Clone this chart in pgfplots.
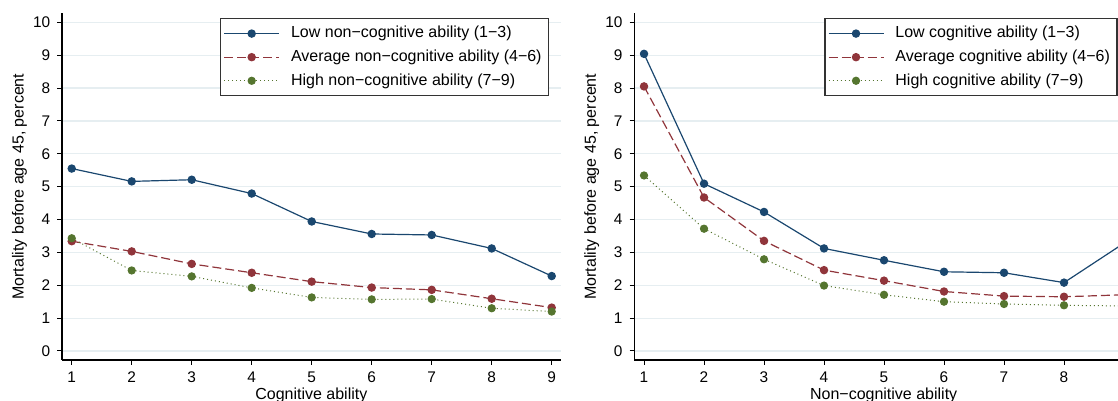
\documentclass[border=0pt]{standalone}
\usepackage{pgfplots}
\pgfplotsset{compat=1.18}
\usepackage{fontspec}
\setmainfont{Liberation Sans}
\definecolor{snavy}{RGB}{26,71,111}
\definecolor{smaroon}{RGB}{144,53,59}
\definecolor{sgreen}{RGB}{85,117,47}
\definecolor{sgrid}{RGB}{230,238,241}

\pgfplotsset{
  stata/.style={
    scale only axis, width=249.35pt, height=173.35pt,
    xmin=0.838, xmax=9.15, ymin=-0.274, ymax=10.274,
    axis lines*=left,
    axis line style={line width=0.6pt, black},
    xtick={1,...,9}, ytick={0,...,10},
    tick align=outside, major tick length=2.35pt,
    tick style={line width=0.5pt, black},
    ymajorgrids, major grid style={sgrid, line width=0.6pt},
    /pgf/number format/assume math mode=true,
    tick label style={font=\fontsize{7.7}{9}\selectfont},
    label style={font=\fontsize{8}{9.6}\selectfont},
    xlabel style={yshift=4.25pt},
    ylabel style={yshift=-3.75pt},
    ylabel={Mortality before age 45, percent},
    legend cell align=left,
    legend image code/.code={\draw[mark repeat=2, mark phase=2, #1] plot coordinates {(0pt,0pt) (13.75pt,0pt) (27.5pt,0pt)};},
    legend style={at={(0.3168,0.9856)}, anchor=north west, draw=black!80, line width=0.6pt,
      font=\fontsize{8}{9.6}\selectfont, inner xsep=1.5pt, inner ysep=1.7pt, row sep=0.5pt,
      /tikz/every odd column/.append style={inner sep=1.5pt, column sep=3.65pt},
      /tikz/every even column/.append style={inner xsep=5pt, inner ysep=1.5pt}},
  },
  low/.style={snavy, solid, line width=0.6pt, mark=*, mark size=1.8pt, mark options={solid, fill=snavy, draw=snavy}},
  avg/.style={smaroon, dash pattern=on 4.5pt off 2pt, line width=0.6pt, mark=*, mark size=1.8pt, mark options={solid, fill=smaroon, draw=smaroon}},
  high/.style={sgreen, dash pattern=on 0.5pt off 1.5pt, line width=0.5pt, mark=*, mark size=1.8pt, mark options={solid, fill=sgreen, draw=sgreen}},
}

\begin{document}
\begin{tikzpicture}
\path[use as bounding box] (0,0) rectangle (559pt,200.5pt);
\clip (0,0) rectangle (559pt,200.5pt);

\begin{axis}[stata, at={(31pt,20.5pt)}, anchor=south west, xlabel={Cognitive ability}]
\addplot[low] coordinates {(1,5.55) (2,5.16) (3,5.21) (4,4.79) (5,3.94) (6,3.56) (7,3.53) (8,3.12) (9,2.28)};
\addlegendentry{Low non−cognitive ability (1−3)}
\addplot[avg] coordinates {(1,3.34) (2,3.03) (3,2.65) (4,2.38) (5,2.11) (6,1.93) (7,1.86) (8,1.59) (9,1.32)};
\addlegendentry{Average non−cognitive ability (4−6)}
\addplot[high] coordinates {(1,3.43) (2,2.45) (3,2.27) (4,1.92) (5,1.63) (6,1.57) (7,1.58) (8,1.30) (9,1.20)};
\addlegendentry{High non−cognitive ability (7−9)}
\end{axis}

\begin{axis}[stata, at={(317.15pt,20.5pt)}, anchor=south west, xlabel={Non−cognitive ability},
  legend style={at={(0.381,0.9856)}, anchor=north west}]
\addplot[low] coordinates {(1,9.04) (2,5.09) (3,4.23) (4,3.12) (5,2.76) (6,2.41) (7,2.38) (8,2.08) (9,3.28)};
\addlegendentry{Low cognitive ability (1−3)}
\addplot[avg] coordinates {(1,8.05) (2,4.67) (3,3.35) (4,2.46) (5,2.14) (6,1.81) (7,1.67) (8,1.65) (9,1.71)};
\addlegendentry{Average cognitive ability (4−6)}
\addplot[high] coordinates {(1,5.34) (2,3.72) (3,2.79) (4,1.99) (5,1.71) (6,1.50) (7,1.43) (8,1.39) (9,1.37)};
\addlegendentry{High cognitive ability (7−9)}
\end{axis}
\end{tikzpicture}
\end{document}
